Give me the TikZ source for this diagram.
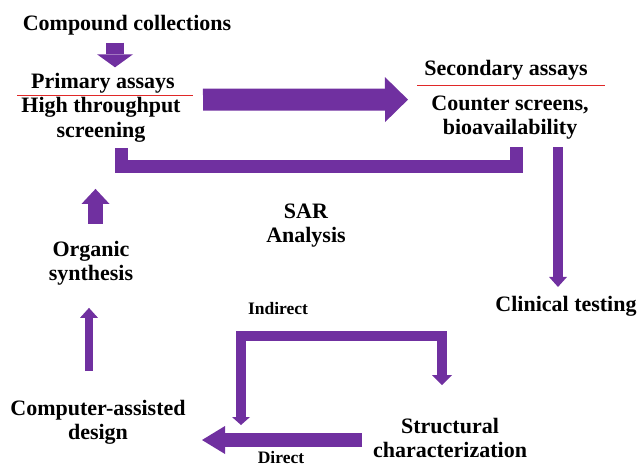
\documentclass[tikz,border=0pt]{standalone}
\usepackage{fontspec}
\setmainfont{Liberation Serif}
\usepackage{tikz}
\usetikzlibrary{arrows.meta}
\definecolor{arrowviolet}{RGB}{112,48,160}
\definecolor{splitred}{RGB}{224,40,40}

\begin{document}
\begin{tikzpicture}[x=1pt,y=-1pt]
	\tikzset{txt/.style={font=\bfseries\fontsize{22}{24.5}\selectfont,align=center,inner sep=0pt},
		smalltxt/.style={font=\bfseries\fontsize{17.5}{20}\selectfont,inner sep=0pt},
		fat/.style args={#1/#2/#3}{draw=arrowviolet,line width=#1pt,line cap=butt,
			-{Triangle[width=#2pt,length=#3pt,line width=0pt]}}}

\useasboundingbox (0,0) rectangle (640,467);

\node[txt] (comp) at (127,25) {Compound collections};
\node[txt] (prim) at (103,83.5) {Primary assays};
\node[txt] (hts) at (101,120) {High throughput\\screening};
\node[txt] (sec) at (506,70) {Secondary assays};
\node[txt] (cnt) at (510,117.5) {Counter screens,\\bioavailability};
\node[txt] (clin) at (566,306.5) {Clinical testing};
\node[txt] (sar) at (306,225.5) {SAR\\Analysis};
\node[txt] (org) at (91,263) {Organic\\synthesis};
\node[txt] (cad) at (98,422.5) {Computer-assisted\\design};
\node[txt] (str) at (450,438) {Structural\\characterization};
\node[smalltxt] (ind) at (278,309) {Indirect};
\node[smalltxt,anchor=north] (dir) at (281,451) {Direct};

% red split lines
\draw[splitred,line width=1.2pt] ([shift={(-86,2)}]prim.south) -- ([shift={(90,2)}]prim.south);
\draw[splitred,line width=1.2pt] ([shift={(-89,5.4)}]sec.south) -- ([shift={(99,5.4)}]sec.south);

\draw[fat=18/36/13] ([shift={(-12,7.4)}]comp.south) -- ([shift={(12,-6)}]prim.north);
\draw[fat=22/45/23] ([shift={(100,6)}]prim.south) -- ([shift={(-98,19.4)}]sec.south);
\draw[draw=arrowviolet,line width=13pt] ([shift={(6,7.4)}]cnt.south) -- ++(0,19.5) -| ([shift={(20.5,5.4)}]hts.south);
\draw[fat=10/18/10] ([shift={(48,7.4)}]cnt.south) -- ([shift={(-8,-9.3)}]clin.north);
\draw[fat=15/28/15] ([shift={(4.5,-16.8)}]org.north) -- ([shift={(-5.5,46.4)}]hts.south);
\draw[fat=8/18/10] ([shift={(-9,-28.8)}]cad.north) -- ([shift={(-2,22.4)}]org.south);

% indirect and direct routes
\draw[draw=arrowviolet,line width=10pt,
	{Triangle[width=18pt,length=8pt,line width=0pt]}-{Triangle[width=20pt,length=10pt,line width=0pt]}]
	([shift={(143,2.5)}]cad.center) -- ++(0,-89) -| ([shift={(-8,-52.8)}]str.center);
\draw[fat=14/28/23] ([shift={(-88,2)}]str.center) -- ([shift={(104,17.5)}]cad.center);
\end{tikzpicture}
\end{document}
